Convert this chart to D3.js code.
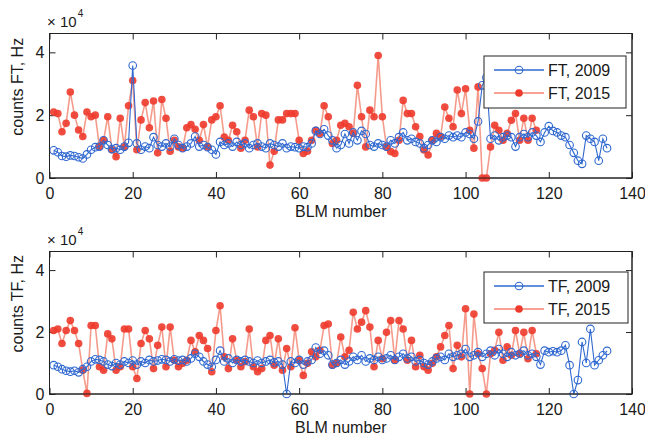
<!DOCTYPE html>
<html>
<head>
<meta charset="utf-8">
<script src="https://cdn.jsdelivr.net/npm/d3@7"></script>
<style>
html,body{margin:0;padding:0;background:#fff;}
svg text{font-family:"Liberation Sans",Arial,Helvetica,sans-serif;fill:#1a1a1a;}
</style>
</head>
<body>
<svg id="chart" width="645" height="440"></svg>
<script>
// ---------- data (values in units of 10^4 Hz) ----------
const ft2009 = [0.88,0.82,0.70,0.68,0.72,0.70,0.66,0.62,0.75,0.90,0.98,1.00,1.20,1.05,0.92,0.95,0.90,1.00,1.12,3.58,
1.10,0.90,1.00,0.95,1.30,1.05,1.00,1.10,1.00,1.25,1.05,0.95,1.00,1.10,1.32,1.00,1.05,0.98,0.90,0.75,
1.15,1.05,1.10,1.00,1.15,1.05,1.10,0.95,1.05,1.10,1.00,0.95,1.10,1.05,1.00,1.10,0.95,1.00,0.98,0.95,
1.00,0.98,1.10,1.50,1.40,1.55,1.35,1.20,0.95,1.05,1.40,1.10,1.45,1.20,1.50,1.40,1.05,1.00,1.10,1.05,
1.00,1.20,1.10,1.30,1.45,1.20,1.25,1.15,1.10,0.95,1.05,1.20,1.15,1.30,1.25,1.35,1.30,1.35,1.30,1.45,
1.40,1.25,1.80,2.95,3.20,1.25,1.35,1.20,1.30,1.35,1.30,1.00,1.30,1.40,1.30,1.45,1.35,1.15,1.45,1.65,
1.50,1.45,1.35,1.30,1.05,0.80,0.55,0.45,1.35,1.25,1.15,0.55,1.25,0.95];
const ft2015 = [2.10,2.05,1.47,1.74,2.74,2.00,1.53,1.32,2.10,1.95,2.00,1.00,1.20,1.95,0.90,0.68,1.90,0.99,2.30,3.10,
0.90,1.85,2.40,1.60,2.45,0.80,2.50,1.90,0.85,1.20,0.99,0.95,1.60,1.70,1.55,1.20,1.70,0.99,1.85,1.95,
2.30,1.30,1.20,1.68,1.47,0.95,1.20,2.16,1.95,0.99,2.05,2.00,0.41,0.85,1.85,1.85,2.05,2.05,2.05,1.20,
0.78,0.85,1.20,1.52,1.42,2.30,1.95,1.10,1.20,1.68,1.74,1.63,1.42,2.95,1.95,0.99,2.16,1.95,3.90,1.95,
0.99,0.84,0.78,1.20,2.47,2.05,2.05,1.63,1.32,0.89,0.73,1.20,1.42,1.32,2.26,1.90,1.63,2.80,2.05,2.84,
1.52,0.95,2.90,0.00,0.00,0.99,1.68,1.52,1.20,1.42,1.84,2.05,1.20,1.90,1.20,1.90,1.52];
const tf2009 = [0.93,0.88,0.80,0.75,0.72,0.75,0.70,0.80,0.88,1.05,1.12,1.10,1.05,0.95,0.90,1.00,0.95,1.05,1.00,1.08,
0.95,1.05,1.00,1.10,1.05,1.08,1.12,1.10,1.05,1.12,1.08,1.10,1.05,1.15,1.30,1.20,1.05,0.95,0.88,1.10,
1.40,1.05,1.15,1.00,1.10,1.05,1.10,1.05,1.00,1.08,1.00,1.05,1.10,1.02,1.05,0.95,0.00,1.05,1.00,1.10,
0.95,1.05,1.10,1.50,1.30,1.40,1.25,0.95,1.00,1.10,0.95,1.05,1.20,1.10,1.25,1.05,1.15,1.10,1.20,1.10,
1.15,1.25,1.10,1.20,1.30,1.15,1.20,1.05,1.10,1.00,0.95,1.05,1.15,1.20,1.10,1.30,1.20,1.25,1.30,1.45,
1.20,1.25,1.35,1.20,1.30,1.40,1.25,1.45,1.30,1.20,1.35,1.25,1.30,1.40,1.25,1.30,1.20,0.95,1.40,1.35,
1.38,1.35,1.40,1.57,0.93,0.00,0.45,1.68,1.00,2.10,0.93,1.09,1.25,1.39];
const tf2015 = [2.05,2.10,1.63,2.05,2.37,2.05,1.63,0.77,0.02,2.21,2.21,0.88,0.77,1.94,1.78,0.77,0.88,2.10,2.10,0.88,
0.50,1.63,2.05,1.78,0.82,1.57,2.16,0.88,2.16,1.09,0.88,0.99,1.09,1.73,1.36,1.89,1.73,1.47,0.72,2.05,
2.85,1.20,0.82,1.78,1.09,0.88,1.04,2.10,0.88,0.72,0.82,1.73,1.89,0.93,1.78,0.77,1.47,0.88,2.14,1.09,
0.60,0.99,1.36,1.20,1.41,2.21,2.26,0.93,0.99,1.84,1.20,1.41,2.64,2.10,2.32,2.69,2.16,0.88,1.73,1.14,
1.99,2.37,1.09,2.37,2.10,1.09,1.73,0.88,1.25,0.88,0.77,0.99,1.20,1.52,1.89,2.21,0.82,1.57,1.20,2.75,
0.00,2.58,1.30,0.82,0.00,1.30,1.41,1.99,1.09,1.52,1.25,2.05,1.30,1.99,1.14,2.05,1.30];
const xTicks = [0,20,40,60,80,100,120,140];
const yTicks = [0,2,4];
const xLabel = "BLM number";
const panels = [
  {ylab:"counts FT, Hz", a:ft2009, b:ft2015, la:"FT, 2009", lb:"FT, 2015"},
  {ylab:"counts TF, Hz", a:tf2009, b:tf2015, la:"TF, 2009", lb:"TF, 2015"}
];

// ---------- layout ----------
const svg = d3.select("#chart");
const L = 49.5, R = 632;
const boxes = [{top:33.5, bottom:178, leg:{x:484,y:56,w:142,h:52}},
               {top:251.5, bottom:394, leg:{x:484,y:272,w:144,h:51}}];
const blue = "#2f68d0", redM = "#ee3a2c", redL = "#f3826f";

const x = d3.scaleLinear().domain([0,140]).range([L,R]);

panels.forEach((p,i)=>{
  const b = boxes[i];
  const y = d3.scaleLinear().domain([0,4.6]).range([b.bottom,b.top]);
  const g = svg.append("g");

  g.append("rect").attr("x",L).attr("y",b.top).attr("width",R-L).attr("height",b.bottom-b.top)
    .attr("fill","#fff").attr("stroke","#222").attr("stroke-width",1);

  const xb = g.append("g").attr("transform",`translate(0,${b.bottom})`)
    .call(d3.axisBottom(x).tickValues(xTicks).tickSize(-6).tickPadding(9.5).tickFormat(d3.format("d")));
  const xt = g.append("g").attr("transform",`translate(0,${b.top})`)
    .call(d3.axisTop(x).tickValues(xTicks).tickSize(-6).tickFormat(""));
  const yl = g.append("g").attr("transform",`translate(${L},0)`)
    .call(d3.axisLeft(y).tickValues(yTicks).tickSize(-6).tickPadding(5).tickFormat(d3.format("d")));
  const yr = g.append("g").attr("transform",`translate(${R},0)`)
    .call(d3.axisRight(y).tickValues(yTicks).tickSize(-6).tickFormat(""));
  [xb,xt,yl,yr].forEach(a=>{
    a.select(".domain").remove();
    a.selectAll("line").attr("stroke","#222");
    a.selectAll("text").attr("font-size",16).attr("fill","#1a1a1a")
      .attr("font-family","Liberation Sans, Arial, sans-serif");
  });

  const cid = "clip"+i;
  svg.append("clipPath").attr("id",cid).append("rect")
    .attr("x",L).attr("y",b.top-5).attr("width",R-L).attr("height",b.bottom-b.top+10);
  const dg = g.append("g").attr("clip-path",`url(#${cid})`);

  const line = d3.line().x((d,k)=>x(k+1)).y(d=>y(d));

  // 2015 series (red)
  dg.append("path").datum(p.b).attr("d",line).attr("fill","none")
    .attr("stroke",redL).attr("stroke-width",1.6).attr("stroke-opacity",0.8);
  dg.selectAll(".rm").data(p.b).enter().append("circle")
    .attr("cx",(d,k)=>x(k+1)).attr("cy",d=>y(d)).attr("r",3.8)
    .attr("fill",redM).attr("fill-opacity",0.9);

  // 2009 series (blue)
  dg.append("path").datum(p.a).attr("d",line).attr("fill","none")
    .attr("stroke",blue).attr("stroke-width",1.1);
  dg.selectAll(".bm").data(p.a).enter().append("circle")
    .attr("cx",(d,k)=>x(k+1)).attr("cy",d=>y(d)).attr("r",3.8)
    .attr("fill","none").attr("stroke",blue).attr("stroke-width",1.1);

  g.append("rect").attr("x",L).attr("y",b.top).attr("width",R-L).attr("height",b.bottom-b.top)
    .attr("fill","none").attr("stroke","#222").attr("stroke-width",1);

  // x10^4 multiplier
  const mt = g.append("text").attr("x",47).attr("y",b.top-7).attr("font-size",15);
  mt.append("tspan").text("× 10");
  mt.append("tspan").attr("font-size",10).attr("dx",1).attr("dy",-10).text("4");

  // y label
  g.append("text").attr("transform",`translate(23,${(b.top+b.bottom)/2 - 19}) rotate(-90)`)
    .attr("text-anchor","middle").attr("font-size",16).text(p.ylab);
  // x label
  g.append("text").attr("x",(L+R)/2).attr("y",b.bottom+39).attr("text-anchor","middle")
    .attr("font-size",16).text(xLabel);

  // legend
  const lg = b.leg;
  const leg = g.append("g");
  leg.append("rect").attr("x",lg.x).attr("y",lg.y).attr("width",lg.w).attr("height",lg.h)
    .attr("fill","#fff").attr("stroke","#222").attr("stroke-width",1);
  const r1 = lg.y+14, r2 = lg.y+37;
  leg.append("line").attr("x1",lg.x+10).attr("x2",lg.x+60).attr("y1",r1).attr("y2",r1)
    .attr("stroke",blue).attr("stroke-width",1.3);
  leg.append("circle").attr("cx",lg.x+35).attr("cy",r1).attr("r",3.8)
    .attr("fill","none").attr("stroke",blue).attr("stroke-width",1.1);
  leg.append("line").attr("x1",lg.x+10).attr("x2",lg.x+60).attr("y1",r2).attr("y2",r2)
    .attr("stroke",redL).attr("stroke-width",1.6);
  leg.append("circle").attr("cx",lg.x+35).attr("cy",r2).attr("r",3.8).attr("fill",redM);
  leg.append("text").attr("x",lg.x+64).attr("y",r1+6).attr("font-size",16).text(p.la);
  leg.append("text").attr("x",lg.x+64).attr("y",r2+6).attr("font-size",16).text(p.lb);
});
</script>
</body>
</html>
